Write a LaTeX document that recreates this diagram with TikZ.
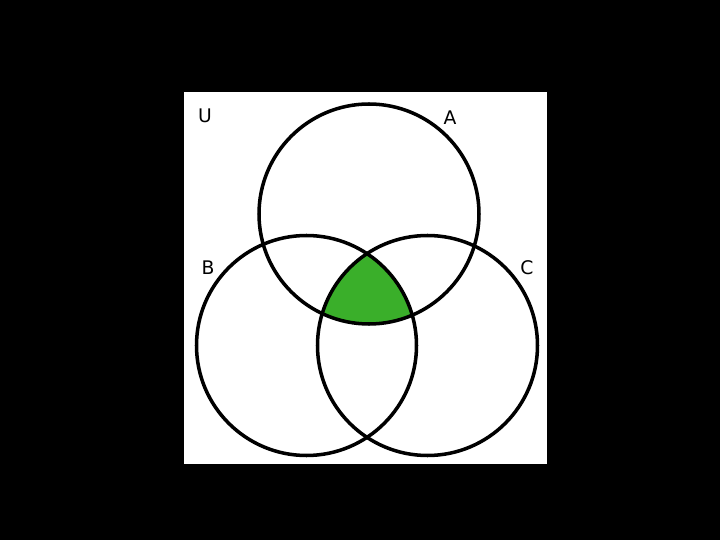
\documentclass[tikz,border=0pt]{standalone}
\usepackage{fontspec}
\setmainfont{DejaVu Sans}
\usetikzlibrary{positioning}
\definecolor{setgreen}{RGB}{58,175,42}

\begin{document}
\begin{tikzpicture}[x=0.03cm, y=-0.03cm]
            % background and universe
            \fill[black] (0,0) rectangle (720,540);
            \node[fill=white, inner sep=0pt, minimum width=363*0.03cm, minimum height=372*0.03cm] (u) at (365.5,278) {};

            % intersection of all three sets
            \begin{scope}
                \clip (369,214) circle (110);
                \clip (306.5,345.5) circle (110);
                \fill[setgreen] (427.5,345.5) circle (110);
            \end{scope}

            \node[draw, circle, line width=3pt, minimum size=220*0.03cm] (a) at (369,214) {};
            \node[draw, circle, line width=3pt, minimum size=220*0.03cm] (b) at (306.5,345.5) {};
            \node[draw, circle, line width=3pt, minimum size=220*0.03cm] (c) at (427.5,345.5) {};

            \node[font=\fontsize{16}{18}\selectfont, inner sep=0pt] (lu) at (205,116) {U};
            \node[font=\fontsize{16}{18}\selectfont, inner sep=0pt] (la) at (450,118) {A};
            \node[font=\fontsize{16}{18}\selectfont, inner sep=0pt] (lb) at (208,268) {B};
            \node[font=\fontsize{16}{18}\selectfont, inner sep=0pt] (lc) at (527,268) {C};
        \end{tikzpicture}
\end{document}
